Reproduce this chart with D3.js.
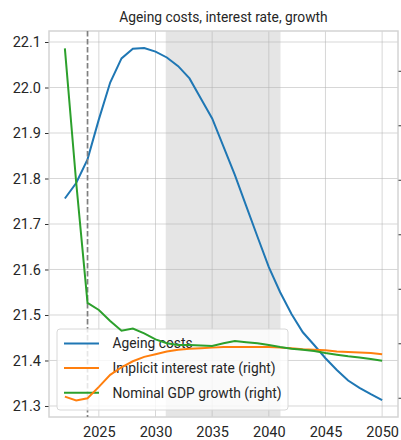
<!DOCTYPE html>
<html><head><meta charset="utf-8">
<script src="https://cdn.jsdelivr.net/npm/d3@7"></script>
<style>html,body{margin:0;padding:0;background:#fff;overflow:hidden}</style>
</head><body>
<svg id="c" width="401" height="440"></svg>
<script>
const years = d3.range(2022, 2051);
const ageingCosts = [21.756, 21.790, 21.842, 21.930, 22.011, 22.064, 22.085, 22.087, 22.079, 22.066,
  22.047, 22.020, 21.976, 21.932, 21.870, 21.808, 21.740, 21.672, 21.605, 21.550,
  21.502, 21.462, 21.434, 21.405, 21.379, 21.356, 21.340, 21.326, 21.313];
const interestRate = [1.02, 0.95, 0.99, 1.20, 1.42, 1.56, 1.67, 1.75, 1.80, 1.85,
  1.88, 1.90, 1.91, 1.92, 1.93, 1.93, 1.93, 1.93, 1.93, 1.92,
  1.91, 1.89, 1.88, 1.87, 1.85, 1.84, 1.83, 1.82, 1.80];
const gdpGrowth = [7.41, 4.95, 2.74, 2.61, 2.41, 2.23, 2.27, 2.18, 2.07, 2.00,
  1.97, 1.97, 1.96, 1.95, 2.00, 2.04, 2.02, 2.00, 1.97, 1.93,
  1.90, 1.88, 1.86, 1.82, 1.79, 1.76, 1.74, 1.71, 1.68];
const xTicks = [2025, 2030, 2035, 2040, 2045, 2050];
const yLeftTicks = [21.3, 21.4, 21.5, 21.6, 21.7, 21.8, 21.9, 22.0, 22.1];
const yRightTicks = [1, 2, 3, 4, 5, 6, 7];
const shadeSpan = [2030.9, 2041.03];
const markerYear = 2024;
const seriesNames = ["Ageing costs", "Implicit interest rate (right)", "Nominal GDP growth (right)"];
const colors = ["#1f77b4", "#ff7f0e", "#2ca02c"];
const title = "Ageing costs, interest rate, growth";

const L = 49, R = 398, T = 31, B = 417;
const FONT = "Roboto, 'Noto Sans', sans-serif";
const svg = d3.select("#c");
const x = d3.scaleLinear().domain([2020.6, 2051.4]).range([L, R]);
const y = d3.scaleLinear().domain([21.2758, 22.1242]).range([B, T]);
const y2 = d3.scaleLinear().domain([0.647, 7.73]).range([B, T]);

// shading
svg.append("rect").attr("x", x(shadeSpan[0])).attr("y", T)
  .attr("width", x(shadeSpan[1]) - x(shadeSpan[0])).attr("height", B - T)
  .attr("fill", "#e5e5e5");

// grid
const grid = svg.append("g").attr("stroke", "#b0b0b0").attr("stroke-opacity", 0.5).attr("stroke-width", 1);
xTicks.forEach(t => grid.append("line").attr("x1", x(t)).attr("x2", x(t)).attr("y1", T).attr("y2", B));
yLeftTicks.forEach(t => grid.append("line").attr("x1", L).attr("x2", R).attr("y1", y(t)).attr("y2", y(t)));

// spines
svg.append("rect").attr("x", L).attr("y", T).attr("width", R - L).attr("height", B - T)
  .attr("fill", "none").attr("stroke", "#d4d4d4").attr("stroke-width", 1.5);

// axes
const axL = d3.axisLeft(y).tickValues(yLeftTicks).tickFormat(d3.format(".1f")).tickSize(3.5).tickPadding(4);
const gL = svg.append("g").attr("transform", `translate(${L - 0.5},0)`).call(axL);
// right axis: tick labels fall outside the 401px canvas in the reference, so only marks are shown
const axR = d3.axisRight(y2).tickValues(yRightTicks).tickFormat("").tickSize(3.5).tickPadding(4);
const gR = svg.append("g").attr("transform", `translate(${R + 0.5},0)`).call(axR);
const axB = d3.axisBottom(x).tickValues(xTicks).tickFormat(d3.format("d")).tickSize(0).tickPadding(10);
const gB = svg.append("g").attr("transform", `translate(0,${B})`).call(axB);
[gL, gR, gB].forEach(g => {
  g.select(".domain").remove();
  g.selectAll("line").attr("stroke", "#333");
  g.selectAll("text").attr("font-family", FONT).attr("font-size", 14.5).attr("fill", "#262626");
});

// blue line (primary axis)
const lineL = d3.line().x((d, i) => x(years[i])).y(d => y(d));
svg.append("path").datum(ageingCosts).attr("d", lineL).attr("fill", "none")
  .attr("stroke", colors[0]).attr("stroke-width", 2);

// dashed marker
svg.append("line").attr("x1", x(markerYear)).attr("x2", x(markerYear)).attr("y1", T).attr("y2", B)
  .attr("stroke", "#808080").attr("stroke-width", 1.7).attr("stroke-dasharray", "5.5,2.5");

// legend
const lg = svg.append("g");
lg.append("rect").attr("x", 57).attr("y", 329).attr("width", 231).attr("height", 81).attr("rx", 3)
  .attr("fill", "#fff").attr("fill-opacity", 0.8).attr("stroke", "#d8d8d8").attr("stroke-width", 1);
seriesNames.forEach((n, i) => {
  const yy = 343.5 + i * 24.6;
  lg.append("line").attr("x1", 64).attr("x2", 99).attr("y1", yy).attr("y2", yy)
    .attr("stroke", colors[i]).attr("stroke-width", 2);
  lg.append("text").attr("x", 112.5).attr("y", yy).attr("dy", "0.36em").text(n)
    .attr("font-family", FONT).attr("font-size", 13.8).attr("fill", "#262626");
});

// right-axis lines (drawn above legend)
const lineR = d3.line().x((d, i) => x(years[i])).y(d => y2(d));
svg.append("path").datum(interestRate).attr("d", lineR).attr("fill", "none")
  .attr("stroke", colors[1]).attr("stroke-width", 2);
svg.append("path").datum(gdpGrowth).attr("d", lineR).attr("fill", "none")
  .attr("stroke", colors[2]).attr("stroke-width", 2);

// title
svg.append("text").attr("x", (L + R) / 2).attr("y", 22).attr("text-anchor", "middle").text(title)
  .attr("font-family", FONT).attr("font-size", 13.8).attr("fill", "#262626");
</script>
</body></html>
